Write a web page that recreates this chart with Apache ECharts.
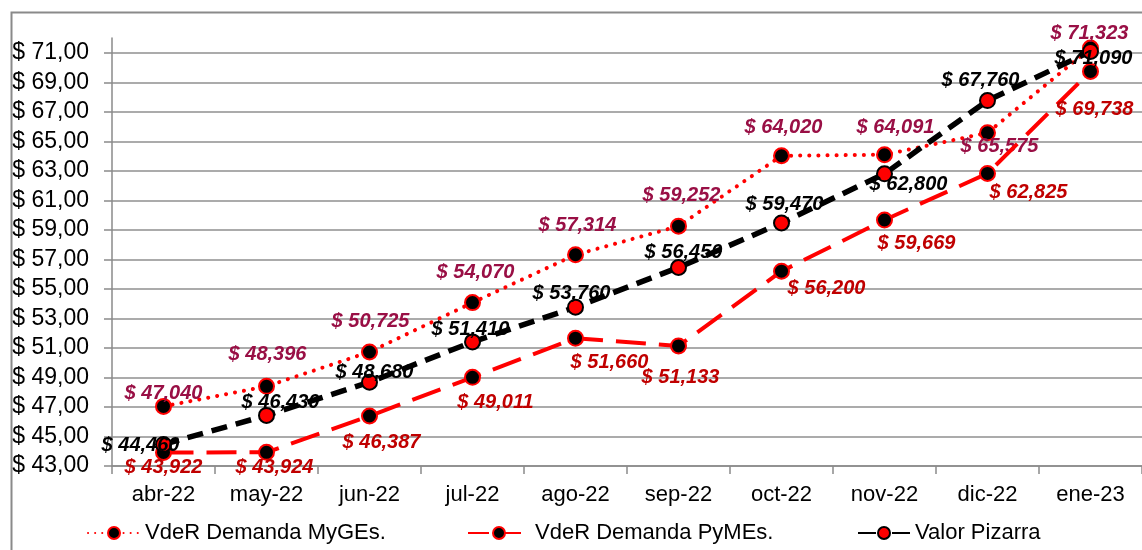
<!DOCTYPE html>
<html>
<head>
<meta charset="utf-8">
<script src="https://cdn.jsdelivr.net/npm/echarts@6/dist/echarts.min.js"></script>
<style>
  html, body { margin: 0; padding: 0; background: #fff; }
  #chart { width: 1142px; height: 550px; }
</style>
</head>
<body>
<div id="chart"></div>
<script>
const months = ['abr-22', 'may-22', 'jun-22', 'jul-22', 'ago-22', 'sep-22', 'oct-22', 'nov-22', 'dic-22', 'ene-23']
const mygesValues = [47.040, 48.396, 50.725, 54.070, 57.314, 59.252, 64.020, 64.091, 65.575, 71.323]
const pymesValues = [43.922, 43.924, 46.387, 49.011, 51.660, 51.133, 56.200, 59.669, 62.825, 69.738]
const pizarraValues = [44.460, 46.430, 48.680, 51.410, 53.760, 56.450, 59.470, 62.800, 67.760, 71.090]
const seriesNames = ['VdeR Demanda MyGEs.', 'VdeR Demanda PyMEs.', 'Valor Pizarra']

// where each data label sits relative to its point (px)
const labelShift = {
  myges: [[0, -13], [1, -32], [1, -31], [3, -30], [2, -29], [3, -31], [2, -28], [11, -27], [12, 14], [-1, -15]],
  pymes: [[0, 15], [8, 15], [12, 26], [23, 25], [34, 24], [2, 32], [45, 17], [32, 23], [41, 19], [4, 38]],
  pizarra: [[-23, 1], [14, -13], [5, -10], [-2, -12], [-4, -14], [5, -15], [3, -18], [24, 11], [-7, -20], [3, 7]],
}

const FONT = '"Liberation Sans", Arial, sans-serif'
const fmtMoney = v => '$ ' + v.toFixed(3).replace('.', ',')

const withLabels = (values, shifts) => values.map((v, i) => ({
  value: v,
  label: { offset: shifts[i] },
}))

const chart = echarts.init(document.getElementById('chart'), null, { renderer: 'canvas' })

const labelBase = color => ({
  show: true,
  position: 'inside',
  color: color,
  fontFamily: FONT,
  fontSize: 20,
  fontWeight: 'bold',
  fontStyle: 'italic',
  formatter: p => fmtMoney(p.value),
})

const legendText = { color: '#000', fontFamily: FONT, fontSize: 22 }

const option = {
  animation: false,
  backgroundColor: '#fff',
  graphic: [{
    type: 'rect',
    left: 9, top: 10,
    shape: { width: 1200, height: 600 },
    style: { fill: 'none', stroke: '#8a8a8a', lineWidth: 2 },
    silent: true,
    z: -10,
  }],
  grid: { left: 112, right: -3, top: 38, bottom: 84, containLabel: false },
  legend: [
    {
      data: [seriesNames[0]], left: 82, top: 517, itemWidth: 52, itemHeight: 15, itemGap: 0,
      textStyle: legendText, lineStyle: { type: [0.1, 7] },
    },
    {
      data: [seriesNames[1]], left: 462, top: 517, itemWidth: 62, itemHeight: 15, itemGap: 0,
      textStyle: legendText, lineStyle: { type: [21, 11] },
    },
    {
      data: [seriesNames[2]], left: 852, top: 517, itemWidth: 52, itemHeight: 15, itemGap: 0,
      textStyle: legendText, lineStyle: { type: [18, 16] },
    },
  ],
  xAxis: {
    type: 'category',
    data: months,
    boundaryGap: true,
    axisLine: { lineStyle: { color: '#8a8a8a', width: 1.5 } },
    axisTick: { show: true, length: 8, lineStyle: { color: '#8a8a8a', width: 1.5 } },
    axisLabel: { color: '#000', fontFamily: FONT, fontSize: 22, margin: 18 },
  },
  yAxis: {
    type: 'value',
    min: 43,
    max: 72,
    interval: 2,
    axisLine: { show: true, lineStyle: { color: '#8a8a8a', width: 1.5 } },
    axisTick: { show: true, length: 8, lineStyle: { color: '#8a8a8a', width: 1.5 } },
    axisLabel: {
      color: '#000', fontFamily: FONT, fontSize: 23, margin: 23,
      showMaxLabel: false,
      formatter: v => (Math.round(v) % 2 === 1 ? '$ ' + v.toFixed(2).replace('.', ',') : ''),
    },
    splitLine: { show: true, showMaxLine: false, lineStyle: { color: '#8f8f8f', width: 1.5 } },
  },
  series: [
    {
      name: seriesNames[0], type: 'line',
      data: withLabels(mygesValues, labelShift.myges),
      symbol: 'circle', symbolSize: 15,
      lineStyle: { color: '#ff0000', width: 4, type: [0.1, 9], cap: 'round' },
      itemStyle: { color: '#000', borderColor: '#ff0000', borderWidth: 2 },
      label: labelBase('#990F45'),
      z: 2,
    },
    {
      name: seriesNames[1], type: 'line',
      data: withLabels(pymesValues, labelShift.pymes),
      symbol: 'circle', symbolSize: 15,
      lineStyle: { color: '#ff0000', width: 4, type: [30, 13] },
      itemStyle: { color: '#000', borderColor: '#ff0000', borderWidth: 2 },
      label: labelBase('#C00000'),
      z: 3,
    },
    {
      name: seriesNames[2], type: 'line',
      data: withLabels(pizarraValues, labelShift.pizarra),
      symbol: 'circle', symbolSize: 15,
      lineStyle: { color: '#000', width: 5.5, type: [16, 9] },
      itemStyle: { color: '#ff0000', borderColor: '#000', borderWidth: 2 },
      label: labelBase('#000'),
      z: 4,
    },
  ],
}

chart.setOption(option)
</script>
</body>
</html>
